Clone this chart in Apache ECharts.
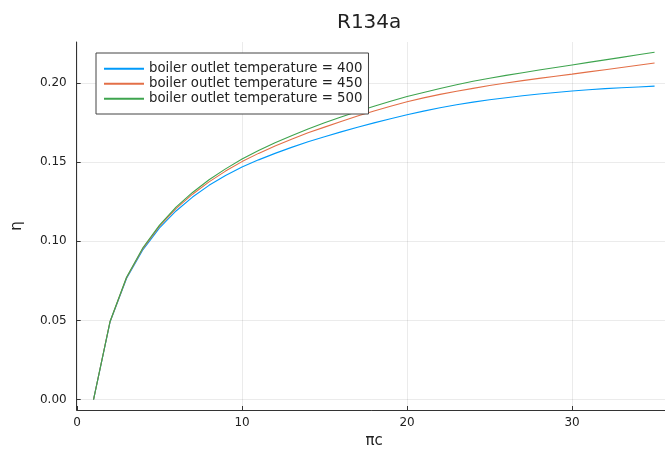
<!DOCTYPE html>
<html>
<head>
<meta charset="utf-8">
<script src="https://cdn.jsdelivr.net/npm/echarts@6/dist/echarts.min.js"></script>
<style>html,body{margin:0;padding:0;background:#fff}#c{width:665px;height:454px}</style>
</head>
<body>
<div id="c"></div>
<script>
const piC = [1,2,3,4,5,6,7,8,9,10,11,12,13,14,15,16,17,18,19,20,21,22,23,24,25,26,27,28,29,30,31,32,33,34,35];
const eta400 = [0,0.0490,0.0765,0.0948,0.1085,0.1192,0.1280,0.1354,0.1416,0.1470,0.1515,0.1556,0.1594,0.1629,0.1661,0.1692,0.1721,0.1749,0.1775,0.1800,0.1823,0.1844,0.1863,0.1880,0.1895,0.1908,0.1920,0.1931,0.1941,0.1950,0.1958,0.1965,0.1971,0.1976,0.1981];
const eta450 = [0,0.0492,0.0770,0.0956,0.1096,0.1207,0.1298,0.1376,0.1444,0.1504,0.1556,0.1603,0.1646,0.1686,0.1722,0.1758,0.1792,0.1824,0.1854,0.1882,0.1907,0.1929,0.1949,0.1967,0.1985,0.2001,0.2016,0.2030,0.2044,0.2057,0.2071,0.2085,0.2099,0.2113,0.2127];
const eta500 = [0,0.0493,0.0773,0.0961,0.1103,0.1216,0.1309,0.1389,0.1458,0.1520,0.1574,0.1623,0.1668,0.1710,0.1749,0.1786,0.1821,0.1854,0.1885,0.1915,0.1941,0.1966,0.1990,0.2012,0.2031,0.2049,0.2066,0.2083,0.2099,0.2115,0.2131,0.2147,0.2163,0.2179,0.2195];
const seriesNames = ['boiler outlet temperature = 400','boiler outlet temperature = 450','boiler outlet temperature = 500'];
const xTicks = [0,10,20,30];
const yTicks = [0,0.05,0.10,0.15,0.20];
const titleText = 'R134a';
const xName = 'πc';
const yName = 'η';

const colors = ['#009AFA','#E36F47','#3EA44E'];
const font = 'DejaVu Sans';
const axisColor = '#333';

function pairs(xs, ys){ return xs.map((x,i)=>[x, ys[i]]); }

const chart = echarts.init(document.getElementById('c'), null, {renderer:'canvas'});
chart.setOption({
  animation:false,
  backgroundColor:'#fff',
  color: colors,
  title:{
    text:titleText, left:332, top:8,
    textStyle:{fontFamily:font, fontSize:20, fontWeight:'normal', color:'#222'}
  },
  grid:{left:76.7, right:-6.4, top:42, bottom:44, containLabel:false, outerBoundsMode:'none'},
  legend:{
    left:96, top:53, orient:'vertical',
    itemWidth:40, itemHeight:14, itemGap:0.5,
    padding:[8.5,6,8,7],
    borderColor:'#444', borderWidth:1, backgroundColor:'#fff',
    itemStyle:{opacity:0},
    textStyle:{fontFamily:font, fontSize:13.3, color:'#222', lineHeight:14.5},
    data: seriesNames
  },
  xAxis:{
    type:'value', min:-0.02, max:36.02,
    name:xName, nameLocation:'middle', nameGap:22,
    nameTextStyle:{fontFamily:font, fontSize:15, color:'#222'},
    axisLine:{show:true, onZero:false, lineStyle:{color:axisColor, width:1}},
    axisTick:{show:true, inside:true, length:4, customValues:xTicks, lineStyle:{color:axisColor}},
    axisLabel:{customValues:xTicks, fontFamily:font, fontSize:12, color:'#222', margin:7, formatter:v=>String(v)},
    splitLine:{show:true, lineStyle:{color:'rgba(0,0,0,0.08)', width:1}}
  },
  yAxis:{
    type:'value', min:-0.0066, max:0.226,
    name:yName, nameLocation:'middle', nameGap:52,
    nameTextStyle:{fontFamily:font, fontSize:15, color:'#222'},
    axisLine:{show:true, onZero:false, lineStyle:{color:axisColor, width:1}},
    axisTick:{show:true, inside:true, length:4, customValues:yTicks, lineStyle:{color:axisColor}},
    axisLabel:{customValues:yTicks, fontFamily:font, fontSize:12, color:'#222', margin:10, formatter:v=>v.toFixed(2)},
    splitLine:{show:true, lineStyle:{color:'rgba(0,0,0,0.08)', width:1}}
  },
  series:[
    {name:seriesNames[0], type:'line', data:pairs(piC, eta400), symbol:'none', lineStyle:{width:1.1}, z:3},
    {name:seriesNames[1], type:'line', data:pairs(piC, eta450), symbol:'none', lineStyle:{width:1.1}, z:3},
    {name:seriesNames[2], type:'line', data:pairs(piC, eta500), symbol:'none', lineStyle:{width:1.1}, z:3}
  ]
});
</script>
</body>
</html>
